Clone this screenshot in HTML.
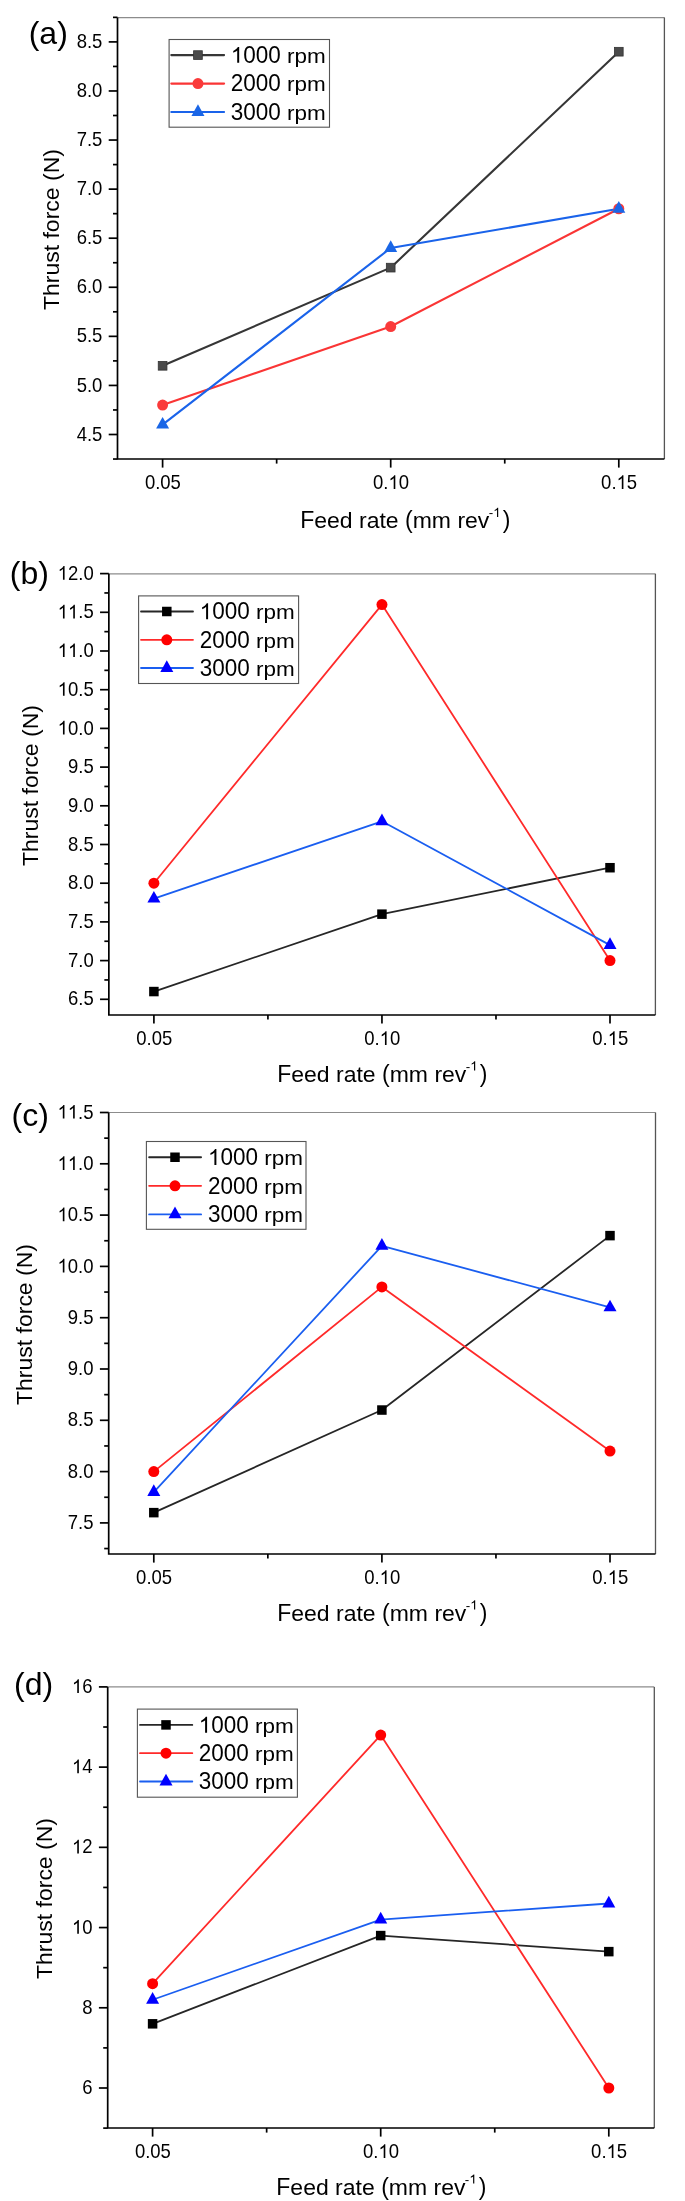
<!DOCTYPE html>
<html><head><meta charset="utf-8"><style>
html,body{margin:0;padding:0;background:#fff;}
svg{display:block;will-change:transform;}
text{font-family:"Liberation Sans", sans-serif;fill:#000;font-kerning:none;}
.tk{font-size:18.5px;}
.lg{font-size:22.5px;}
.ti{font-size:23px;}
.pl{font-size:32px;}
.sup{font-size:13.4px;}
.ax{stroke:#000;stroke-width:1.7;}
</style></head><body>
<svg width="685" height="2201" viewBox="0 0 685 2201">
<rect width="685" height="2201" fill="#fff"/>
<path d="M117.50,17.60H664.40" fill="none" stroke="#8c8c8c" stroke-width="1.2"/>
<path d="M664.40,17.60V459.00" fill="none" stroke="#555" stroke-width="1.3"/>
<line x1="108.70" y1="434.50" x2="117.50" y2="434.50" class="ax"/>
<text transform="translate(102.35,440.60) translate(-25.72,0) scale(1,1.07)" class="tk" style="font-size:18.5px">4</text><text transform="translate(102.35,440.60) translate(-15.43,0) scale(1,1.0)" class="tk" style="font-size:18.5px">.</text><text transform="translate(102.35,440.60) translate(-10.29,0) scale(1,1.07)" class="tk" style="font-size:18.5px">5</text>
<line x1="108.70" y1="385.43" x2="117.50" y2="385.43" class="ax"/>
<text transform="translate(102.35,391.53) translate(-25.72,0) scale(1,1.07)" class="tk" style="font-size:18.5px">5</text><text transform="translate(102.35,391.53) translate(-15.43,0) scale(1,1.0)" class="tk" style="font-size:18.5px">.</text><text transform="translate(102.35,391.53) translate(-10.29,0) scale(1,1.07)" class="tk" style="font-size:18.5px">0</text>
<line x1="108.70" y1="336.35" x2="117.50" y2="336.35" class="ax"/>
<text transform="translate(102.35,342.45) translate(-25.72,0) scale(1,1.07)" class="tk" style="font-size:18.5px">5</text><text transform="translate(102.35,342.45) translate(-15.43,0) scale(1,1.0)" class="tk" style="font-size:18.5px">.</text><text transform="translate(102.35,342.45) translate(-10.29,0) scale(1,1.07)" class="tk" style="font-size:18.5px">5</text>
<line x1="108.70" y1="287.27" x2="117.50" y2="287.27" class="ax"/>
<text transform="translate(102.35,293.38) translate(-25.72,0) scale(1,1.07)" class="tk" style="font-size:18.5px">6</text><text transform="translate(102.35,293.38) translate(-15.43,0) scale(1,1.0)" class="tk" style="font-size:18.5px">.</text><text transform="translate(102.35,293.38) translate(-10.29,0) scale(1,1.07)" class="tk" style="font-size:18.5px">0</text>
<line x1="108.70" y1="238.20" x2="117.50" y2="238.20" class="ax"/>
<text transform="translate(102.35,244.30) translate(-25.72,0) scale(1,1.07)" class="tk" style="font-size:18.5px">6</text><text transform="translate(102.35,244.30) translate(-15.43,0) scale(1,1.0)" class="tk" style="font-size:18.5px">.</text><text transform="translate(102.35,244.30) translate(-10.29,0) scale(1,1.07)" class="tk" style="font-size:18.5px">5</text>
<line x1="108.70" y1="189.13" x2="117.50" y2="189.13" class="ax"/>
<text transform="translate(102.35,195.23) translate(-25.72,0) scale(1,1.07)" class="tk" style="font-size:18.5px">7</text><text transform="translate(102.35,195.23) translate(-15.43,0) scale(1,1.0)" class="tk" style="font-size:18.5px">.</text><text transform="translate(102.35,195.23) translate(-10.29,0) scale(1,1.07)" class="tk" style="font-size:18.5px">0</text>
<line x1="108.70" y1="140.05" x2="117.50" y2="140.05" class="ax"/>
<text transform="translate(102.35,146.15) translate(-25.72,0) scale(1,1.07)" class="tk" style="font-size:18.5px">7</text><text transform="translate(102.35,146.15) translate(-15.43,0) scale(1,1.0)" class="tk" style="font-size:18.5px">.</text><text transform="translate(102.35,146.15) translate(-10.29,0) scale(1,1.07)" class="tk" style="font-size:18.5px">5</text>
<line x1="108.70" y1="90.97" x2="117.50" y2="90.97" class="ax"/>
<text transform="translate(102.35,97.07) translate(-25.72,0) scale(1,1.07)" class="tk" style="font-size:18.5px">8</text><text transform="translate(102.35,97.07) translate(-15.43,0) scale(1,1.0)" class="tk" style="font-size:18.5px">.</text><text transform="translate(102.35,97.07) translate(-10.29,0) scale(1,1.07)" class="tk" style="font-size:18.5px">0</text>
<line x1="108.70" y1="41.90" x2="117.50" y2="41.90" class="ax"/>
<text transform="translate(102.35,48.00) translate(-25.72,0) scale(1,1.07)" class="tk" style="font-size:18.5px">8</text><text transform="translate(102.35,48.00) translate(-15.43,0) scale(1,1.0)" class="tk" style="font-size:18.5px">.</text><text transform="translate(102.35,48.00) translate(-10.29,0) scale(1,1.07)" class="tk" style="font-size:18.5px">5</text>
<line x1="113.00" y1="459.04" x2="117.50" y2="459.04" class="ax"/>
<line x1="113.00" y1="409.96" x2="117.50" y2="409.96" class="ax"/>
<line x1="113.00" y1="360.89" x2="117.50" y2="360.89" class="ax"/>
<line x1="113.00" y1="311.81" x2="117.50" y2="311.81" class="ax"/>
<line x1="113.00" y1="262.74" x2="117.50" y2="262.74" class="ax"/>
<line x1="113.00" y1="213.66" x2="117.50" y2="213.66" class="ax"/>
<line x1="113.00" y1="164.59" x2="117.50" y2="164.59" class="ax"/>
<line x1="113.00" y1="115.51" x2="117.50" y2="115.51" class="ax"/>
<line x1="113.00" y1="66.44" x2="117.50" y2="66.44" class="ax"/>
<line x1="113.00" y1="17.36" x2="117.50" y2="17.36" class="ax"/>
<line x1="162.60" y1="459.00" x2="162.60" y2="467.60" class="ax"/>
<text transform="translate(162.90,488.90) translate(-18.00,0) scale(1,1.07)" class="tk" style="font-size:18.5px">0</text><text transform="translate(162.90,488.90) translate(-7.71,0) scale(1,1.0)" class="tk" style="font-size:18.5px">.</text><text transform="translate(162.90,488.90) translate(-2.57,0) scale(1,1.07)" class="tk" style="font-size:18.5px">05</text>
<line x1="390.70" y1="459.00" x2="390.70" y2="467.60" class="ax"/>
<text transform="translate(391.00,488.90) translate(-18.00,0) scale(1,1.07)" class="tk" style="font-size:18.5px">0</text><text transform="translate(391.00,488.90) translate(-7.71,0) scale(1,1.0)" class="tk" style="font-size:18.5px">.</text><text transform="translate(391.00,488.90) translate(-2.57,0) scale(1,1.07)" class="tk" style="font-size:18.5px"> 0</text><path transform="translate(391.00,488.90) translate(-2.57,0) scale(0.00903,-0.00967)" d="M763,0H583V1098Q518,1038 413,979T223,890V1057Q373,1124 486,1221T645,1409H763Z"/>
<line x1="618.80" y1="459.00" x2="618.80" y2="467.60" class="ax"/>
<text transform="translate(619.10,488.90) translate(-18.00,0) scale(1,1.07)" class="tk" style="font-size:18.5px">0</text><text transform="translate(619.10,488.90) translate(-7.71,0) scale(1,1.0)" class="tk" style="font-size:18.5px">.</text><text transform="translate(619.10,488.90) translate(-2.57,0) scale(1,1.07)" class="tk" style="font-size:18.5px"> 5</text><path transform="translate(619.10,488.90) translate(-2.57,0) scale(0.00903,-0.00967)" d="M763,0H583V1098Q518,1038 413,979T223,890V1057Q373,1124 486,1221T645,1409H763Z"/>
<line x1="276.65" y1="459.00" x2="276.65" y2="463.60" class="ax"/>
<line x1="504.75" y1="459.00" x2="504.75" y2="463.60" class="ax"/>
<path d="M117.50,17.60V459.00H664.40" fill="none" class="ax"/>
<polyline points="162.60,365.79 390.70,267.64 618.80,51.71" fill="none" stroke="#363636" stroke-width="2.1" stroke-linejoin="round"/>
<polyline points="162.60,405.06 390.70,326.54 618.80,208.76" fill="none" stroke="#fa3535" stroke-width="2.1" stroke-linejoin="round"/>
<polyline points="162.60,424.69 390.70,248.01 618.80,208.76" fill="none" stroke="#1a63ea" stroke-width="2.1" stroke-linejoin="round"/>
<rect x="158.25" y="361.44" width="8.70" height="8.70" fill="#4a4a4a" stroke="#333" stroke-width="0.8"/>
<rect x="386.35" y="263.29" width="8.70" height="8.70" fill="#4a4a4a" stroke="#333" stroke-width="0.8"/>
<rect x="614.45" y="47.36" width="8.70" height="8.70" fill="#4a4a4a" stroke="#333" stroke-width="0.8"/>
<circle cx="162.60" cy="405.06" r="5.5" fill="#fa3a3a"/>
<circle cx="390.70" cy="326.54" r="5.5" fill="#fa3a3a"/>
<circle cx="618.80" cy="208.76" r="5.5" fill="#fa3a3a"/>
<polygon points="162.60,416.89 169.10,428.59 156.10,428.59" fill="#1a66e6"/>
<polygon points="390.70,240.21 397.20,251.91 384.20,251.91" fill="#1a66e6"/>
<polygon points="618.80,200.96 625.30,212.66 612.30,212.66" fill="#1a66e6"/>
<rect x="169.10" y="39.50" width="160.40" height="87.70" fill="#fff" stroke="#555" stroke-width="1.1"/>
<line x1="171.30" y1="55.10" x2="224.10" y2="55.10" stroke="#363636" stroke-width="2.1" stroke-linecap="round"/>
<rect x="193.60" y="50.75" width="8.70" height="8.70" fill="#4a4a4a" stroke="#333" stroke-width="0.8"/>
<text transform="translate(230.80,62.85) translate(0.00,0) scale(1,1.03)" class="lg" style="font-size:22.5px"> 000</text><path transform="translate(230.80,62.85) translate(0.00,0) scale(0.01099,-0.01132)" d="M763,0H583V1098Q518,1038 413,979T223,890V1057Q373,1124 486,1221T645,1409H763Z"/><text transform="translate(230.80,62.85) translate(56.30,0) scale(1,0.9)" class="lg" style="font-size:22.5px">rpm</text>
<line x1="171.30" y1="83.60" x2="224.10" y2="83.60" stroke="#fa3535" stroke-width="2.1" stroke-linecap="round"/>
<circle cx="197.95" cy="83.60" r="5.5" fill="#fa3a3a"/>
<text transform="translate(230.80,91.35) translate(0.00,0) scale(1,1.03)" class="lg" style="font-size:22.5px">2000</text><text transform="translate(230.80,91.35) translate(56.30,0) scale(1,0.9)" class="lg" style="font-size:22.5px">rpm</text>
<line x1="171.30" y1="112.00" x2="224.10" y2="112.00" stroke="#1a63ea" stroke-width="2.1" stroke-linecap="round"/>
<polygon points="197.95,104.20 204.45,115.90 191.45,115.90" fill="#1a66e6"/>
<text transform="translate(230.80,119.75) translate(0.00,0) scale(1,1.03)" class="lg" style="font-size:22.5px">3000</text><text transform="translate(230.80,119.75) translate(56.30,0) scale(1,0.9)" class="lg" style="font-size:22.5px">rpm</text>
<text transform="translate(59.10,310.10) rotate(-90) translate(0.00,0) scale(1,0.96)" class="ti" style="font-size:23.0px">T</text><text transform="translate(59.10,310.10) rotate(-90) translate(14.05,0) scale(1,0.93)" class="ti" style="font-size:23.0px">hrust</text><text transform="translate(59.10,310.10) rotate(-90) translate(71.57,0) scale(1,0.93)" class="ti" style="font-size:23.0px">force</text><text transform="translate(59.10,310.10) rotate(-90) translate(129.09,0) scale(1,0.96)" class="ti" style="font-size:23.0px">(N)</text>
<text transform="translate(300.20,528.20) translate(0.00,0) scale(1,1.0)" class="ti" style="font-size:23.0px">F</text><text transform="translate(300.20,528.20) translate(14.05,0) scale(1,0.94)" class="ti" style="font-size:23.0px">eed</text><text transform="translate(300.20,528.20) translate(58.81,0) scale(1,0.94)" class="ti" style="font-size:23.0px">rate</text><text transform="translate(300.20,528.20) translate(104.84,0) scale(1,1.0)" class="ti" style="font-size:23.0px">(</text><text transform="translate(300.20,528.20) translate(112.50,0) scale(1,0.94)" class="ti" style="font-size:23.0px">mm</text><text transform="translate(300.20,528.20) translate(157.20,0) scale(1,0.94)" class="ti" style="font-size:23.0px">rev</text>
<text transform="translate(488.75,517.00) translate(0.00,0) scale(1,1.0)" class="sup" style="font-size:13.4px">-</text><text transform="translate(488.75,517.00) translate(4.46,0) scale(1,1.0)" class="sup" style="font-size:13.4px"> </text><path transform="translate(488.75,517.00) translate(4.46,0) scale(0.00654,-0.00654)" d="M763,0H583V1098Q518,1038 413,979T223,890V1057Q373,1124 486,1221T645,1409H763Z"/>
<text transform="translate(502.67,528.20) translate(0.00,0) scale(1,1.0)" class="ti" style="font-size:23.0px">)</text>
<text x="28.70" y="44.30" class="pl">(a)</text>
<path d="M108.85,573.80H655.40" fill="none" stroke="#8c8c8c" stroke-width="1.2"/>
<path d="M655.40,573.80V1015.00" fill="none" stroke="#555" stroke-width="1.3"/>
<line x1="100.05" y1="999.30" x2="108.85" y2="999.30" class="ax"/>
<text transform="translate(93.70,1005.40) translate(-25.72,0) scale(1,1.07)" class="tk" style="font-size:18.5px">6</text><text transform="translate(93.70,1005.40) translate(-15.43,0) scale(1,1.0)" class="tk" style="font-size:18.5px">.</text><text transform="translate(93.70,1005.40) translate(-10.29,0) scale(1,1.07)" class="tk" style="font-size:18.5px">5</text>
<line x1="100.05" y1="960.60" x2="108.85" y2="960.60" class="ax"/>
<text transform="translate(93.70,966.70) translate(-25.72,0) scale(1,1.07)" class="tk" style="font-size:18.5px">7</text><text transform="translate(93.70,966.70) translate(-15.43,0) scale(1,1.0)" class="tk" style="font-size:18.5px">.</text><text transform="translate(93.70,966.70) translate(-10.29,0) scale(1,1.07)" class="tk" style="font-size:18.5px">0</text>
<line x1="100.05" y1="921.90" x2="108.85" y2="921.90" class="ax"/>
<text transform="translate(93.70,928.00) translate(-25.72,0) scale(1,1.07)" class="tk" style="font-size:18.5px">7</text><text transform="translate(93.70,928.00) translate(-15.43,0) scale(1,1.0)" class="tk" style="font-size:18.5px">.</text><text transform="translate(93.70,928.00) translate(-10.29,0) scale(1,1.07)" class="tk" style="font-size:18.5px">5</text>
<line x1="100.05" y1="883.20" x2="108.85" y2="883.20" class="ax"/>
<text transform="translate(93.70,889.30) translate(-25.72,0) scale(1,1.07)" class="tk" style="font-size:18.5px">8</text><text transform="translate(93.70,889.30) translate(-15.43,0) scale(1,1.0)" class="tk" style="font-size:18.5px">.</text><text transform="translate(93.70,889.30) translate(-10.29,0) scale(1,1.07)" class="tk" style="font-size:18.5px">0</text>
<line x1="100.05" y1="844.50" x2="108.85" y2="844.50" class="ax"/>
<text transform="translate(93.70,850.60) translate(-25.72,0) scale(1,1.07)" class="tk" style="font-size:18.5px">8</text><text transform="translate(93.70,850.60) translate(-15.43,0) scale(1,1.0)" class="tk" style="font-size:18.5px">.</text><text transform="translate(93.70,850.60) translate(-10.29,0) scale(1,1.07)" class="tk" style="font-size:18.5px">5</text>
<line x1="100.05" y1="805.80" x2="108.85" y2="805.80" class="ax"/>
<text transform="translate(93.70,811.90) translate(-25.72,0) scale(1,1.07)" class="tk" style="font-size:18.5px">9</text><text transform="translate(93.70,811.90) translate(-15.43,0) scale(1,1.0)" class="tk" style="font-size:18.5px">.</text><text transform="translate(93.70,811.90) translate(-10.29,0) scale(1,1.07)" class="tk" style="font-size:18.5px">0</text>
<line x1="100.05" y1="767.10" x2="108.85" y2="767.10" class="ax"/>
<text transform="translate(93.70,773.20) translate(-25.72,0) scale(1,1.07)" class="tk" style="font-size:18.5px">9</text><text transform="translate(93.70,773.20) translate(-15.43,0) scale(1,1.0)" class="tk" style="font-size:18.5px">.</text><text transform="translate(93.70,773.20) translate(-10.29,0) scale(1,1.07)" class="tk" style="font-size:18.5px">5</text>
<line x1="100.05" y1="728.40" x2="108.85" y2="728.40" class="ax"/>
<text transform="translate(93.70,734.50) translate(-36.01,0) scale(1,1.07)" class="tk" style="font-size:18.5px"> 0</text><path transform="translate(93.70,734.50) translate(-36.01,0) scale(0.00903,-0.00967)" d="M763,0H583V1098Q518,1038 413,979T223,890V1057Q373,1124 486,1221T645,1409H763Z"/><text transform="translate(93.70,734.50) translate(-15.43,0) scale(1,1.0)" class="tk" style="font-size:18.5px">.</text><text transform="translate(93.70,734.50) translate(-10.29,0) scale(1,1.07)" class="tk" style="font-size:18.5px">0</text>
<line x1="100.05" y1="689.70" x2="108.85" y2="689.70" class="ax"/>
<text transform="translate(93.70,695.80) translate(-36.01,0) scale(1,1.07)" class="tk" style="font-size:18.5px"> 0</text><path transform="translate(93.70,695.80) translate(-36.01,0) scale(0.00903,-0.00967)" d="M763,0H583V1098Q518,1038 413,979T223,890V1057Q373,1124 486,1221T645,1409H763Z"/><text transform="translate(93.70,695.80) translate(-15.43,0) scale(1,1.0)" class="tk" style="font-size:18.5px">.</text><text transform="translate(93.70,695.80) translate(-10.29,0) scale(1,1.07)" class="tk" style="font-size:18.5px">5</text>
<line x1="100.05" y1="651.00" x2="108.85" y2="651.00" class="ax"/>
<text transform="translate(93.70,657.10) translate(-36.01,0) scale(1,1.07)" class="tk" style="font-size:18.5px">  </text><path transform="translate(93.70,657.10) translate(-36.01,0) scale(0.00903,-0.00967)" d="M763,0H583V1098Q518,1038 413,979T223,890V1057Q373,1124 486,1221T645,1409H763Z"/><path transform="translate(93.70,657.10) translate(-25.72,0) scale(0.00903,-0.00967)" d="M763,0H583V1098Q518,1038 413,979T223,890V1057Q373,1124 486,1221T645,1409H763Z"/><text transform="translate(93.70,657.10) translate(-15.43,0) scale(1,1.0)" class="tk" style="font-size:18.5px">.</text><text transform="translate(93.70,657.10) translate(-10.29,0) scale(1,1.07)" class="tk" style="font-size:18.5px">0</text>
<line x1="100.05" y1="612.30" x2="108.85" y2="612.30" class="ax"/>
<text transform="translate(93.70,618.40) translate(-36.01,0) scale(1,1.07)" class="tk" style="font-size:18.5px">  </text><path transform="translate(93.70,618.40) translate(-36.01,0) scale(0.00903,-0.00967)" d="M763,0H583V1098Q518,1038 413,979T223,890V1057Q373,1124 486,1221T645,1409H763Z"/><path transform="translate(93.70,618.40) translate(-25.72,0) scale(0.00903,-0.00967)" d="M763,0H583V1098Q518,1038 413,979T223,890V1057Q373,1124 486,1221T645,1409H763Z"/><text transform="translate(93.70,618.40) translate(-15.43,0) scale(1,1.0)" class="tk" style="font-size:18.5px">.</text><text transform="translate(93.70,618.40) translate(-10.29,0) scale(1,1.07)" class="tk" style="font-size:18.5px">5</text>
<line x1="100.05" y1="573.60" x2="108.85" y2="573.60" class="ax"/>
<text transform="translate(93.70,579.70) translate(-36.01,0) scale(1,1.07)" class="tk" style="font-size:18.5px"> 2</text><path transform="translate(93.70,579.70) translate(-36.01,0) scale(0.00903,-0.00967)" d="M763,0H583V1098Q518,1038 413,979T223,890V1057Q373,1124 486,1221T645,1409H763Z"/><text transform="translate(93.70,579.70) translate(-15.43,0) scale(1,1.0)" class="tk" style="font-size:18.5px">.</text><text transform="translate(93.70,579.70) translate(-10.29,0) scale(1,1.07)" class="tk" style="font-size:18.5px">0</text>
<line x1="104.35" y1="979.95" x2="108.85" y2="979.95" class="ax"/>
<line x1="104.35" y1="941.25" x2="108.85" y2="941.25" class="ax"/>
<line x1="104.35" y1="902.55" x2="108.85" y2="902.55" class="ax"/>
<line x1="104.35" y1="863.85" x2="108.85" y2="863.85" class="ax"/>
<line x1="104.35" y1="825.15" x2="108.85" y2="825.15" class="ax"/>
<line x1="104.35" y1="786.45" x2="108.85" y2="786.45" class="ax"/>
<line x1="104.35" y1="747.75" x2="108.85" y2="747.75" class="ax"/>
<line x1="104.35" y1="709.05" x2="108.85" y2="709.05" class="ax"/>
<line x1="104.35" y1="670.35" x2="108.85" y2="670.35" class="ax"/>
<line x1="104.35" y1="631.65" x2="108.85" y2="631.65" class="ax"/>
<line x1="104.35" y1="592.95" x2="108.85" y2="592.95" class="ax"/>
<line x1="153.90" y1="1015.00" x2="153.90" y2="1023.60" class="ax"/>
<text transform="translate(154.20,1044.90) translate(-18.00,0) scale(1,1.07)" class="tk" style="font-size:18.5px">0</text><text transform="translate(154.20,1044.90) translate(-7.71,0) scale(1,1.0)" class="tk" style="font-size:18.5px">.</text><text transform="translate(154.20,1044.90) translate(-2.57,0) scale(1,1.07)" class="tk" style="font-size:18.5px">05</text>
<line x1="381.95" y1="1015.00" x2="381.95" y2="1023.60" class="ax"/>
<text transform="translate(382.25,1044.90) translate(-18.00,0) scale(1,1.07)" class="tk" style="font-size:18.5px">0</text><text transform="translate(382.25,1044.90) translate(-7.71,0) scale(1,1.0)" class="tk" style="font-size:18.5px">.</text><text transform="translate(382.25,1044.90) translate(-2.57,0) scale(1,1.07)" class="tk" style="font-size:18.5px"> 0</text><path transform="translate(382.25,1044.90) translate(-2.57,0) scale(0.00903,-0.00967)" d="M763,0H583V1098Q518,1038 413,979T223,890V1057Q373,1124 486,1221T645,1409H763Z"/>
<line x1="610.00" y1="1015.00" x2="610.00" y2="1023.60" class="ax"/>
<text transform="translate(610.30,1044.90) translate(-18.00,0) scale(1,1.07)" class="tk" style="font-size:18.5px">0</text><text transform="translate(610.30,1044.90) translate(-7.71,0) scale(1,1.0)" class="tk" style="font-size:18.5px">.</text><text transform="translate(610.30,1044.90) translate(-2.57,0) scale(1,1.07)" class="tk" style="font-size:18.5px"> 5</text><path transform="translate(610.30,1044.90) translate(-2.57,0) scale(0.00903,-0.00967)" d="M763,0H583V1098Q518,1038 413,979T223,890V1057Q373,1124 486,1221T645,1409H763Z"/>
<line x1="267.92" y1="1015.00" x2="267.92" y2="1019.60" class="ax"/>
<line x1="495.98" y1="1015.00" x2="495.98" y2="1019.60" class="ax"/>
<path d="M108.85,573.80V1015.00H655.40" fill="none" class="ax"/>
<polyline points="153.90,991.56 381.95,914.16 610.00,867.72" fill="none" stroke="#262626" stroke-width="1.8" stroke-linejoin="round"/>
<polyline points="153.90,883.20 381.95,604.56 610.00,960.60" fill="none" stroke="#ff2a2a" stroke-width="1.8" stroke-linejoin="round"/>
<polyline points="153.90,898.68 381.95,821.28 610.00,945.12" fill="none" stroke="#1a5ef0" stroke-width="1.8" stroke-linejoin="round"/>
<rect x="149.15" y="986.81" width="9.50" height="9.50" fill="#000000"/>
<rect x="377.20" y="909.41" width="9.50" height="9.50" fill="#000000"/>
<rect x="605.25" y="862.97" width="9.50" height="9.50" fill="#000000"/>
<circle cx="153.90" cy="883.20" r="5.5" fill="#ff0000"/>
<circle cx="381.95" cy="604.56" r="5.5" fill="#ff0000"/>
<circle cx="610.00" cy="960.60" r="5.5" fill="#ff0000"/>
<polygon points="153.90,890.88 160.40,902.58 147.40,902.58" fill="#0000ff"/>
<polygon points="381.95,813.48 388.45,825.18 375.45,825.18" fill="#0000ff"/>
<polygon points="610.00,937.32 616.50,949.02 603.50,949.02" fill="#0000ff"/>
<rect x="138.60" y="595.90" width="160.00" height="87.60" fill="#fff" stroke="#555" stroke-width="1.1"/>
<line x1="141.00" y1="611.50" x2="193.00" y2="611.50" stroke="#262626" stroke-width="1.8" stroke-linecap="round"/>
<rect x="162.05" y="606.75" width="9.50" height="9.50" fill="#000000"/>
<text transform="translate(199.70,619.25) translate(0.00,0) scale(1,1.03)" class="lg" style="font-size:22.5px"> 000</text><path transform="translate(199.70,619.25) translate(0.00,0) scale(0.01099,-0.01132)" d="M763,0H583V1098Q518,1038 413,979T223,890V1057Q373,1124 486,1221T645,1409H763Z"/><text transform="translate(199.70,619.25) translate(56.30,0) scale(1,0.9)" class="lg" style="font-size:22.5px">rpm</text>
<line x1="141.00" y1="639.80" x2="193.00" y2="639.80" stroke="#ff2a2a" stroke-width="1.8" stroke-linecap="round"/>
<circle cx="166.80" cy="639.80" r="5.5" fill="#ff0000"/>
<text transform="translate(199.70,647.55) translate(0.00,0) scale(1,1.03)" class="lg" style="font-size:22.5px">2000</text><text transform="translate(199.70,647.55) translate(56.30,0) scale(1,0.9)" class="lg" style="font-size:22.5px">rpm</text>
<line x1="141.00" y1="668.00" x2="193.00" y2="668.00" stroke="#1a5ef0" stroke-width="1.8" stroke-linecap="round"/>
<polygon points="166.80,660.20 173.30,671.90 160.30,671.90" fill="#0000ff"/>
<text transform="translate(199.70,675.75) translate(0.00,0) scale(1,1.03)" class="lg" style="font-size:22.5px">3000</text><text transform="translate(199.70,675.75) translate(56.30,0) scale(1,0.9)" class="lg" style="font-size:22.5px">rpm</text>
<text transform="translate(38.10,866.00) rotate(-90) translate(0.00,0) scale(1,0.96)" class="ti" style="font-size:23.0px">T</text><text transform="translate(38.10,866.00) rotate(-90) translate(14.05,0) scale(1,0.93)" class="ti" style="font-size:23.0px">hrust</text><text transform="translate(38.10,866.00) rotate(-90) translate(71.57,0) scale(1,0.93)" class="ti" style="font-size:23.0px">force</text><text transform="translate(38.10,866.00) rotate(-90) translate(129.09,0) scale(1,0.96)" class="ti" style="font-size:23.0px">(N)</text>
<text transform="translate(277.20,1081.70) translate(0.00,0) scale(1,1.0)" class="ti" style="font-size:23.0px">F</text><text transform="translate(277.20,1081.70) translate(14.05,0) scale(1,0.94)" class="ti" style="font-size:23.0px">eed</text><text transform="translate(277.20,1081.70) translate(58.81,0) scale(1,0.94)" class="ti" style="font-size:23.0px">rate</text><text transform="translate(277.20,1081.70) translate(104.84,0) scale(1,1.0)" class="ti" style="font-size:23.0px">(</text><text transform="translate(277.20,1081.70) translate(112.50,0) scale(1,0.94)" class="ti" style="font-size:23.0px">mm</text><text transform="translate(277.20,1081.70) translate(157.20,0) scale(1,0.94)" class="ti" style="font-size:23.0px">rev</text>
<text transform="translate(465.75,1070.50) translate(0.00,0) scale(1,1.0)" class="sup" style="font-size:13.4px">-</text><text transform="translate(465.75,1070.50) translate(4.46,0) scale(1,1.0)" class="sup" style="font-size:13.4px"> </text><path transform="translate(465.75,1070.50) translate(4.46,0) scale(0.00654,-0.00654)" d="M763,0H583V1098Q518,1038 413,979T223,890V1057Q373,1124 486,1221T645,1409H763Z"/>
<text transform="translate(479.67,1081.70) translate(0.00,0) scale(1,1.0)" class="ti" style="font-size:23.0px">)</text>
<text x="9.80" y="583.70" class="pl">(b)</text>
<path d="M108.70,1112.50H655.50" fill="none" stroke="#8c8c8c" stroke-width="1.2"/>
<path d="M655.50,1112.50V1554.00" fill="none" stroke="#555" stroke-width="1.3"/>
<line x1="99.90" y1="1522.90" x2="108.70" y2="1522.90" class="ax"/>
<text transform="translate(93.55,1529.00) translate(-25.72,0) scale(1,1.07)" class="tk" style="font-size:18.5px">7</text><text transform="translate(93.55,1529.00) translate(-15.43,0) scale(1,1.0)" class="tk" style="font-size:18.5px">.</text><text transform="translate(93.55,1529.00) translate(-10.29,0) scale(1,1.07)" class="tk" style="font-size:18.5px">5</text>
<line x1="99.90" y1="1471.60" x2="108.70" y2="1471.60" class="ax"/>
<text transform="translate(93.55,1477.70) translate(-25.72,0) scale(1,1.07)" class="tk" style="font-size:18.5px">8</text><text transform="translate(93.55,1477.70) translate(-15.43,0) scale(1,1.0)" class="tk" style="font-size:18.5px">.</text><text transform="translate(93.55,1477.70) translate(-10.29,0) scale(1,1.07)" class="tk" style="font-size:18.5px">0</text>
<line x1="99.90" y1="1420.30" x2="108.70" y2="1420.30" class="ax"/>
<text transform="translate(93.55,1426.40) translate(-25.72,0) scale(1,1.07)" class="tk" style="font-size:18.5px">8</text><text transform="translate(93.55,1426.40) translate(-15.43,0) scale(1,1.0)" class="tk" style="font-size:18.5px">.</text><text transform="translate(93.55,1426.40) translate(-10.29,0) scale(1,1.07)" class="tk" style="font-size:18.5px">5</text>
<line x1="99.90" y1="1369.00" x2="108.70" y2="1369.00" class="ax"/>
<text transform="translate(93.55,1375.10) translate(-25.72,0) scale(1,1.07)" class="tk" style="font-size:18.5px">9</text><text transform="translate(93.55,1375.10) translate(-15.43,0) scale(1,1.0)" class="tk" style="font-size:18.5px">.</text><text transform="translate(93.55,1375.10) translate(-10.29,0) scale(1,1.07)" class="tk" style="font-size:18.5px">0</text>
<line x1="99.90" y1="1317.70" x2="108.70" y2="1317.70" class="ax"/>
<text transform="translate(93.55,1323.80) translate(-25.72,0) scale(1,1.07)" class="tk" style="font-size:18.5px">9</text><text transform="translate(93.55,1323.80) translate(-15.43,0) scale(1,1.0)" class="tk" style="font-size:18.5px">.</text><text transform="translate(93.55,1323.80) translate(-10.29,0) scale(1,1.07)" class="tk" style="font-size:18.5px">5</text>
<line x1="99.90" y1="1266.40" x2="108.70" y2="1266.40" class="ax"/>
<text transform="translate(93.55,1272.50) translate(-36.01,0) scale(1,1.07)" class="tk" style="font-size:18.5px"> 0</text><path transform="translate(93.55,1272.50) translate(-36.01,0) scale(0.00903,-0.00967)" d="M763,0H583V1098Q518,1038 413,979T223,890V1057Q373,1124 486,1221T645,1409H763Z"/><text transform="translate(93.55,1272.50) translate(-15.43,0) scale(1,1.0)" class="tk" style="font-size:18.5px">.</text><text transform="translate(93.55,1272.50) translate(-10.29,0) scale(1,1.07)" class="tk" style="font-size:18.5px">0</text>
<line x1="99.90" y1="1215.10" x2="108.70" y2="1215.10" class="ax"/>
<text transform="translate(93.55,1221.20) translate(-36.01,0) scale(1,1.07)" class="tk" style="font-size:18.5px"> 0</text><path transform="translate(93.55,1221.20) translate(-36.01,0) scale(0.00903,-0.00967)" d="M763,0H583V1098Q518,1038 413,979T223,890V1057Q373,1124 486,1221T645,1409H763Z"/><text transform="translate(93.55,1221.20) translate(-15.43,0) scale(1,1.0)" class="tk" style="font-size:18.5px">.</text><text transform="translate(93.55,1221.20) translate(-10.29,0) scale(1,1.07)" class="tk" style="font-size:18.5px">5</text>
<line x1="99.90" y1="1163.80" x2="108.70" y2="1163.80" class="ax"/>
<text transform="translate(93.55,1169.90) translate(-36.01,0) scale(1,1.07)" class="tk" style="font-size:18.5px">  </text><path transform="translate(93.55,1169.90) translate(-36.01,0) scale(0.00903,-0.00967)" d="M763,0H583V1098Q518,1038 413,979T223,890V1057Q373,1124 486,1221T645,1409H763Z"/><path transform="translate(93.55,1169.90) translate(-25.72,0) scale(0.00903,-0.00967)" d="M763,0H583V1098Q518,1038 413,979T223,890V1057Q373,1124 486,1221T645,1409H763Z"/><text transform="translate(93.55,1169.90) translate(-15.43,0) scale(1,1.0)" class="tk" style="font-size:18.5px">.</text><text transform="translate(93.55,1169.90) translate(-10.29,0) scale(1,1.07)" class="tk" style="font-size:18.5px">0</text>
<line x1="99.90" y1="1112.50" x2="108.70" y2="1112.50" class="ax"/>
<text transform="translate(93.55,1118.60) translate(-36.01,0) scale(1,1.07)" class="tk" style="font-size:18.5px">  </text><path transform="translate(93.55,1118.60) translate(-36.01,0) scale(0.00903,-0.00967)" d="M763,0H583V1098Q518,1038 413,979T223,890V1057Q373,1124 486,1221T645,1409H763Z"/><path transform="translate(93.55,1118.60) translate(-25.72,0) scale(0.00903,-0.00967)" d="M763,0H583V1098Q518,1038 413,979T223,890V1057Q373,1124 486,1221T645,1409H763Z"/><text transform="translate(93.55,1118.60) translate(-15.43,0) scale(1,1.0)" class="tk" style="font-size:18.5px">.</text><text transform="translate(93.55,1118.60) translate(-10.29,0) scale(1,1.07)" class="tk" style="font-size:18.5px">5</text>
<line x1="104.20" y1="1548.55" x2="108.70" y2="1548.55" class="ax"/>
<line x1="104.20" y1="1497.25" x2="108.70" y2="1497.25" class="ax"/>
<line x1="104.20" y1="1445.95" x2="108.70" y2="1445.95" class="ax"/>
<line x1="104.20" y1="1394.65" x2="108.70" y2="1394.65" class="ax"/>
<line x1="104.20" y1="1343.35" x2="108.70" y2="1343.35" class="ax"/>
<line x1="104.20" y1="1292.05" x2="108.70" y2="1292.05" class="ax"/>
<line x1="104.20" y1="1240.75" x2="108.70" y2="1240.75" class="ax"/>
<line x1="104.20" y1="1189.45" x2="108.70" y2="1189.45" class="ax"/>
<line x1="104.20" y1="1138.15" x2="108.70" y2="1138.15" class="ax"/>
<line x1="153.80" y1="1554.00" x2="153.80" y2="1562.60" class="ax"/>
<text transform="translate(154.10,1583.90) translate(-18.00,0) scale(1,1.07)" class="tk" style="font-size:18.5px">0</text><text transform="translate(154.10,1583.90) translate(-7.71,0) scale(1,1.0)" class="tk" style="font-size:18.5px">.</text><text transform="translate(154.10,1583.90) translate(-2.57,0) scale(1,1.07)" class="tk" style="font-size:18.5px">05</text>
<line x1="381.90" y1="1554.00" x2="381.90" y2="1562.60" class="ax"/>
<text transform="translate(382.20,1583.90) translate(-18.00,0) scale(1,1.07)" class="tk" style="font-size:18.5px">0</text><text transform="translate(382.20,1583.90) translate(-7.71,0) scale(1,1.0)" class="tk" style="font-size:18.5px">.</text><text transform="translate(382.20,1583.90) translate(-2.57,0) scale(1,1.07)" class="tk" style="font-size:18.5px"> 0</text><path transform="translate(382.20,1583.90) translate(-2.57,0) scale(0.00903,-0.00967)" d="M763,0H583V1098Q518,1038 413,979T223,890V1057Q373,1124 486,1221T645,1409H763Z"/>
<line x1="610.00" y1="1554.00" x2="610.00" y2="1562.60" class="ax"/>
<text transform="translate(610.30,1583.90) translate(-18.00,0) scale(1,1.07)" class="tk" style="font-size:18.5px">0</text><text transform="translate(610.30,1583.90) translate(-7.71,0) scale(1,1.0)" class="tk" style="font-size:18.5px">.</text><text transform="translate(610.30,1583.90) translate(-2.57,0) scale(1,1.07)" class="tk" style="font-size:18.5px"> 5</text><path transform="translate(610.30,1583.90) translate(-2.57,0) scale(0.00903,-0.00967)" d="M763,0H583V1098Q518,1038 413,979T223,890V1057Q373,1124 486,1221T645,1409H763Z"/>
<line x1="267.85" y1="1554.00" x2="267.85" y2="1558.60" class="ax"/>
<line x1="495.95" y1="1554.00" x2="495.95" y2="1558.60" class="ax"/>
<path d="M108.70,1112.50V1554.00H655.50" fill="none" class="ax"/>
<polyline points="153.80,1512.64 381.90,1410.04 610.00,1235.62" fill="none" stroke="#262626" stroke-width="1.8" stroke-linejoin="round"/>
<polyline points="153.80,1471.60 381.90,1286.92 610.00,1451.08" fill="none" stroke="#ff2a2a" stroke-width="1.8" stroke-linejoin="round"/>
<polyline points="153.80,1492.12 381.90,1245.88 610.00,1307.44" fill="none" stroke="#1a5ef0" stroke-width="1.8" stroke-linejoin="round"/>
<rect x="149.05" y="1507.89" width="9.50" height="9.50" fill="#000000"/>
<rect x="377.15" y="1405.29" width="9.50" height="9.50" fill="#000000"/>
<rect x="605.25" y="1230.87" width="9.50" height="9.50" fill="#000000"/>
<circle cx="153.80" cy="1471.60" r="5.5" fill="#ff0000"/>
<circle cx="381.90" cy="1286.92" r="5.5" fill="#ff0000"/>
<circle cx="610.00" cy="1451.08" r="5.5" fill="#ff0000"/>
<polygon points="153.80,1484.32 160.30,1496.02 147.30,1496.02" fill="#0000ff"/>
<polygon points="381.90,1238.08 388.40,1249.78 375.40,1249.78" fill="#0000ff"/>
<polygon points="610.00,1299.64 616.50,1311.34 603.50,1311.34" fill="#0000ff"/>
<rect x="146.40" y="1141.50" width="159.60" height="87.80" fill="#fff" stroke="#555" stroke-width="1.1"/>
<line x1="149.10" y1="1157.25" x2="201.10" y2="1157.25" stroke="#262626" stroke-width="1.8" stroke-linecap="round"/>
<rect x="170.25" y="1152.50" width="9.50" height="9.50" fill="#000000"/>
<text transform="translate(208.00,1165.00) translate(0.00,0) scale(1,1.03)" class="lg" style="font-size:22.5px"> 000</text><path transform="translate(208.00,1165.00) translate(0.00,0) scale(0.01099,-0.01132)" d="M763,0H583V1098Q518,1038 413,979T223,890V1057Q373,1124 486,1221T645,1409H763Z"/><text transform="translate(208.00,1165.00) translate(56.30,0) scale(1,0.9)" class="lg" style="font-size:22.5px">rpm</text>
<line x1="149.10" y1="1185.80" x2="201.10" y2="1185.80" stroke="#ff2a2a" stroke-width="1.8" stroke-linecap="round"/>
<circle cx="175.00" cy="1185.80" r="5.5" fill="#ff0000"/>
<text transform="translate(208.00,1193.55) translate(0.00,0) scale(1,1.03)" class="lg" style="font-size:22.5px">2000</text><text transform="translate(208.00,1193.55) translate(56.30,0) scale(1,0.9)" class="lg" style="font-size:22.5px">rpm</text>
<line x1="149.10" y1="1214.40" x2="201.10" y2="1214.40" stroke="#1a5ef0" stroke-width="1.8" stroke-linecap="round"/>
<polygon points="175.00,1206.60 181.50,1218.30 168.50,1218.30" fill="#0000ff"/>
<text transform="translate(208.00,1222.15) translate(0.00,0) scale(1,1.03)" class="lg" style="font-size:22.5px">3000</text><text transform="translate(208.00,1222.15) translate(56.30,0) scale(1,0.9)" class="lg" style="font-size:22.5px">rpm</text>
<text transform="translate(31.70,1405.00) rotate(-90) translate(0.00,0) scale(1,0.96)" class="ti" style="font-size:23.0px">T</text><text transform="translate(31.70,1405.00) rotate(-90) translate(14.05,0) scale(1,0.93)" class="ti" style="font-size:23.0px">hrust</text><text transform="translate(31.70,1405.00) rotate(-90) translate(71.57,0) scale(1,0.93)" class="ti" style="font-size:23.0px">force</text><text transform="translate(31.70,1405.00) rotate(-90) translate(129.09,0) scale(1,0.96)" class="ti" style="font-size:23.0px">(N)</text>
<text transform="translate(277.20,1620.70) translate(0.00,0) scale(1,1.0)" class="ti" style="font-size:23.0px">F</text><text transform="translate(277.20,1620.70) translate(14.05,0) scale(1,0.94)" class="ti" style="font-size:23.0px">eed</text><text transform="translate(277.20,1620.70) translate(58.81,0) scale(1,0.94)" class="ti" style="font-size:23.0px">rate</text><text transform="translate(277.20,1620.70) translate(104.84,0) scale(1,1.0)" class="ti" style="font-size:23.0px">(</text><text transform="translate(277.20,1620.70) translate(112.50,0) scale(1,0.94)" class="ti" style="font-size:23.0px">mm</text><text transform="translate(277.20,1620.70) translate(157.20,0) scale(1,0.94)" class="ti" style="font-size:23.0px">rev</text>
<text transform="translate(465.75,1609.50) translate(0.00,0) scale(1,1.0)" class="sup" style="font-size:13.4px">-</text><text transform="translate(465.75,1609.50) translate(4.46,0) scale(1,1.0)" class="sup" style="font-size:13.4px"> </text><path transform="translate(465.75,1609.50) translate(4.46,0) scale(0.00654,-0.00654)" d="M763,0H583V1098Q518,1038 413,979T223,890V1057Q373,1124 486,1221T645,1409H763Z"/>
<text transform="translate(479.67,1620.70) translate(0.00,0) scale(1,1.0)" class="ti" style="font-size:23.0px">)</text>
<text x="11.60" y="1126.20" class="pl">(c)</text>
<path d="M107.70,1686.90H654.30" fill="none" stroke="#8c8c8c" stroke-width="1.2"/>
<path d="M654.30,1686.90V2128.00" fill="none" stroke="#555" stroke-width="1.3"/>
<line x1="98.90" y1="2088.00" x2="107.70" y2="2088.00" class="ax"/>
<text transform="translate(92.55,2094.10) translate(-10.29,0) scale(1,1.07)" class="tk" style="font-size:18.5px">6</text>
<line x1="98.90" y1="2007.78" x2="107.70" y2="2007.78" class="ax"/>
<text transform="translate(92.55,2013.88) translate(-10.29,0) scale(1,1.07)" class="tk" style="font-size:18.5px">8</text>
<line x1="98.90" y1="1927.56" x2="107.70" y2="1927.56" class="ax"/>
<text transform="translate(92.55,1933.66) translate(-20.58,0) scale(1,1.07)" class="tk" style="font-size:18.5px"> 0</text><path transform="translate(92.55,1933.66) translate(-20.58,0) scale(0.00903,-0.00967)" d="M763,0H583V1098Q518,1038 413,979T223,890V1057Q373,1124 486,1221T645,1409H763Z"/>
<line x1="98.90" y1="1847.34" x2="107.70" y2="1847.34" class="ax"/>
<text transform="translate(92.55,1853.44) translate(-20.58,0) scale(1,1.07)" class="tk" style="font-size:18.5px"> 2</text><path transform="translate(92.55,1853.44) translate(-20.58,0) scale(0.00903,-0.00967)" d="M763,0H583V1098Q518,1038 413,979T223,890V1057Q373,1124 486,1221T645,1409H763Z"/>
<line x1="98.90" y1="1767.12" x2="107.70" y2="1767.12" class="ax"/>
<text transform="translate(92.55,1773.22) translate(-20.58,0) scale(1,1.07)" class="tk" style="font-size:18.5px"> 4</text><path transform="translate(92.55,1773.22) translate(-20.58,0) scale(0.00903,-0.00967)" d="M763,0H583V1098Q518,1038 413,979T223,890V1057Q373,1124 486,1221T645,1409H763Z"/>
<line x1="98.90" y1="1686.90" x2="107.70" y2="1686.90" class="ax"/>
<text transform="translate(92.55,1693.00) translate(-20.58,0) scale(1,1.07)" class="tk" style="font-size:18.5px"> 6</text><path transform="translate(92.55,1693.00) translate(-20.58,0) scale(0.00903,-0.00967)" d="M763,0H583V1098Q518,1038 413,979T223,890V1057Q373,1124 486,1221T645,1409H763Z"/>
<line x1="103.20" y1="2128.11" x2="107.70" y2="2128.11" class="ax"/>
<line x1="103.20" y1="2047.89" x2="107.70" y2="2047.89" class="ax"/>
<line x1="103.20" y1="1967.67" x2="107.70" y2="1967.67" class="ax"/>
<line x1="103.20" y1="1887.45" x2="107.70" y2="1887.45" class="ax"/>
<line x1="103.20" y1="1807.23" x2="107.70" y2="1807.23" class="ax"/>
<line x1="103.20" y1="1727.01" x2="107.70" y2="1727.01" class="ax"/>
<line x1="152.60" y1="2128.00" x2="152.60" y2="2136.60" class="ax"/>
<text transform="translate(152.90,2157.90) translate(-18.00,0) scale(1,1.07)" class="tk" style="font-size:18.5px">0</text><text transform="translate(152.90,2157.90) translate(-7.71,0) scale(1,1.0)" class="tk" style="font-size:18.5px">.</text><text transform="translate(152.90,2157.90) translate(-2.57,0) scale(1,1.07)" class="tk" style="font-size:18.5px">05</text>
<line x1="380.70" y1="2128.00" x2="380.70" y2="2136.60" class="ax"/>
<text transform="translate(381.00,2157.90) translate(-18.00,0) scale(1,1.07)" class="tk" style="font-size:18.5px">0</text><text transform="translate(381.00,2157.90) translate(-7.71,0) scale(1,1.0)" class="tk" style="font-size:18.5px">.</text><text transform="translate(381.00,2157.90) translate(-2.57,0) scale(1,1.07)" class="tk" style="font-size:18.5px"> 0</text><path transform="translate(381.00,2157.90) translate(-2.57,0) scale(0.00903,-0.00967)" d="M763,0H583V1098Q518,1038 413,979T223,890V1057Q373,1124 486,1221T645,1409H763Z"/>
<line x1="608.80" y1="2128.00" x2="608.80" y2="2136.60" class="ax"/>
<text transform="translate(609.10,2157.90) translate(-18.00,0) scale(1,1.07)" class="tk" style="font-size:18.5px">0</text><text transform="translate(609.10,2157.90) translate(-7.71,0) scale(1,1.0)" class="tk" style="font-size:18.5px">.</text><text transform="translate(609.10,2157.90) translate(-2.57,0) scale(1,1.07)" class="tk" style="font-size:18.5px"> 5</text><path transform="translate(609.10,2157.90) translate(-2.57,0) scale(0.00903,-0.00967)" d="M763,0H583V1098Q518,1038 413,979T223,890V1057Q373,1124 486,1221T645,1409H763Z"/>
<line x1="266.65" y1="2128.00" x2="266.65" y2="2132.60" class="ax"/>
<line x1="494.75" y1="2128.00" x2="494.75" y2="2132.60" class="ax"/>
<path d="M107.70,1686.90V2128.00H654.30" fill="none" class="ax"/>
<polyline points="152.60,2023.82 380.70,1935.58 608.80,1951.63" fill="none" stroke="#262626" stroke-width="1.8" stroke-linejoin="round"/>
<polyline points="152.60,1983.71 380.70,1735.03 608.80,2088.00" fill="none" stroke="#ff2a2a" stroke-width="1.8" stroke-linejoin="round"/>
<polyline points="152.60,1999.76 380.70,1919.54 608.80,1903.49" fill="none" stroke="#1a5ef0" stroke-width="1.8" stroke-linejoin="round"/>
<rect x="147.85" y="2019.07" width="9.50" height="9.50" fill="#000000"/>
<rect x="375.95" y="1930.83" width="9.50" height="9.50" fill="#000000"/>
<rect x="604.05" y="1946.88" width="9.50" height="9.50" fill="#000000"/>
<circle cx="152.60" cy="1983.71" r="5.5" fill="#ff0000"/>
<circle cx="380.70" cy="1735.03" r="5.5" fill="#ff0000"/>
<circle cx="608.80" cy="2088.00" r="5.5" fill="#ff0000"/>
<polygon points="152.60,1991.96 159.10,2003.66 146.10,2003.66" fill="#0000ff"/>
<polygon points="380.70,1911.74 387.20,1923.44 374.20,1923.44" fill="#0000ff"/>
<polygon points="608.80,1895.69 615.30,1907.39 602.30,1907.39" fill="#0000ff"/>
<rect x="137.40" y="1709.10" width="160.00" height="88.10" fill="#fff" stroke="#555" stroke-width="1.1"/>
<line x1="140.00" y1="1724.90" x2="192.30" y2="1724.90" stroke="#262626" stroke-width="1.8" stroke-linecap="round"/>
<rect x="161.25" y="1720.15" width="9.50" height="9.50" fill="#000000"/>
<text transform="translate(198.70,1732.65) translate(0.00,0) scale(1,1.03)" class="lg" style="font-size:22.5px"> 000</text><path transform="translate(198.70,1732.65) translate(0.00,0) scale(0.01099,-0.01132)" d="M763,0H583V1098Q518,1038 413,979T223,890V1057Q373,1124 486,1221T645,1409H763Z"/><text transform="translate(198.70,1732.65) translate(56.30,0) scale(1,0.9)" class="lg" style="font-size:22.5px">rpm</text>
<line x1="140.00" y1="1753.20" x2="192.30" y2="1753.20" stroke="#ff2a2a" stroke-width="1.8" stroke-linecap="round"/>
<circle cx="166.00" cy="1753.20" r="5.5" fill="#ff0000"/>
<text transform="translate(198.70,1760.95) translate(0.00,0) scale(1,1.03)" class="lg" style="font-size:22.5px">2000</text><text transform="translate(198.70,1760.95) translate(56.30,0) scale(1,0.9)" class="lg" style="font-size:22.5px">rpm</text>
<line x1="140.00" y1="1781.50" x2="192.30" y2="1781.50" stroke="#1a5ef0" stroke-width="1.8" stroke-linecap="round"/>
<polygon points="166.00,1773.70 172.50,1785.40 159.50,1785.40" fill="#0000ff"/>
<text transform="translate(198.70,1789.25) translate(0.00,0) scale(1,1.03)" class="lg" style="font-size:22.5px">3000</text><text transform="translate(198.70,1789.25) translate(56.30,0) scale(1,0.9)" class="lg" style="font-size:22.5px">rpm</text>
<text transform="translate(52.40,1979.00) rotate(-90) translate(0.00,0) scale(1,0.96)" class="ti" style="font-size:23.0px">T</text><text transform="translate(52.40,1979.00) rotate(-90) translate(14.05,0) scale(1,0.93)" class="ti" style="font-size:23.0px">hrust</text><text transform="translate(52.40,1979.00) rotate(-90) translate(71.57,0) scale(1,0.93)" class="ti" style="font-size:23.0px">force</text><text transform="translate(52.40,1979.00) rotate(-90) translate(129.09,0) scale(1,0.96)" class="ti" style="font-size:23.0px">(N)</text>
<text transform="translate(276.30,2194.80) translate(0.00,0) scale(1,1.0)" class="ti" style="font-size:23.0px">F</text><text transform="translate(276.30,2194.80) translate(14.05,0) scale(1,0.94)" class="ti" style="font-size:23.0px">eed</text><text transform="translate(276.30,2194.80) translate(58.81,0) scale(1,0.94)" class="ti" style="font-size:23.0px">rate</text><text transform="translate(276.30,2194.80) translate(104.84,0) scale(1,1.0)" class="ti" style="font-size:23.0px">(</text><text transform="translate(276.30,2194.80) translate(112.50,0) scale(1,0.94)" class="ti" style="font-size:23.0px">mm</text><text transform="translate(276.30,2194.80) translate(157.20,0) scale(1,0.94)" class="ti" style="font-size:23.0px">rev</text>
<text transform="translate(464.85,2183.60) translate(0.00,0) scale(1,1.0)" class="sup" style="font-size:13.4px">-</text><text transform="translate(464.85,2183.60) translate(4.46,0) scale(1,1.0)" class="sup" style="font-size:13.4px"> </text><path transform="translate(464.85,2183.60) translate(4.46,0) scale(0.00654,-0.00654)" d="M763,0H583V1098Q518,1038 413,979T223,890V1057Q373,1124 486,1221T645,1409H763Z"/>
<text transform="translate(478.77,2194.80) translate(0.00,0) scale(1,1.0)" class="ti" style="font-size:23.0px">)</text>
<text x="14.00" y="1694.60" class="pl">(d)</text>
</svg>
</body></html>
